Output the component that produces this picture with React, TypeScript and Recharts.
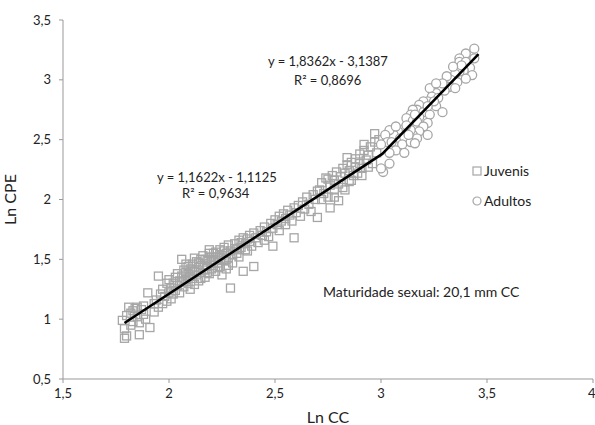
import React from 'react';
import { ScatterChart, Scatter, XAxis, YAxis, Label } from 'recharts';

// Ln CC (x) vs Ln CPE (y)
const juvenisX = [
  1.78, 1.79, 1.80, 1.79, 1.80, 1.81, 1.82, 1.82, 1.83, 1.83, 1.84, 1.85, 1.85, 1.86, 1.86, 1.87, 1.88, 1.88, 1.89, 1.90, 1.91, 1.93,
  1.93, 1.94, 1.95, 1.95, 1.96, 1.97, 1.97, 1.98, 1.99, 1.99, 2.00, 2.00, 2.01, 2.01,
  2.02, 2.02, 2.03, 2.03, 2.04, 2.04, 2.05, 2.05, 2.06, 2.06, 2.07, 2.07, 2.08, 2.08, 2.09, 2.09, 2.10, 2.10, 2.10,
  2.11, 2.11, 2.12, 2.12, 2.13, 2.13, 2.14, 2.14, 2.15, 2.15, 2.16, 2.16, 2.17, 2.17, 2.18, 2.18, 2.19, 2.19, 2.20, 2.20, 2.20,
  2.21, 2.21, 2.22, 2.22, 2.23, 2.23, 2.24, 2.24, 2.25, 2.25, 2.26, 2.26, 2.27, 2.27, 2.28, 2.28, 2.29, 2.29, 2.30, 2.30,
  2.06, 2.08, 2.09, 2.11, 2.12, 2.14, 2.15, 2.17, 2.18, 2.19, 2.21, 2.22, 2.23, 2.24, 2.26, 2.27, 2.28, 2.31, 2.32, 2.34, 2.36, 2.37,
  2.31, 2.32, 2.33, 2.33, 2.34, 2.35, 2.35, 2.36, 2.37, 2.38, 2.38, 2.39, 2.40, 2.40, 2.41, 2.42, 2.43, 2.44, 2.45, 2.45, 2.46, 2.47, 2.48, 2.49, 2.49, 2.50,
  2.51, 2.52, 2.52, 2.53, 2.54, 2.55, 2.55, 2.56, 2.57, 2.58, 2.59, 2.59, 2.60, 2.61, 2.62, 2.63, 2.64, 2.65, 2.66, 2.67, 2.68, 2.69, 2.70, 2.70,
  2.71, 2.72, 2.72, 2.73, 2.74, 2.75, 2.75, 2.76, 2.76, 2.77, 2.78, 2.78, 2.79, 2.80, 2.80, 2.81, 2.82, 2.82, 2.83,
  2.84, 2.85, 2.85, 2.86, 2.87, 2.88, 2.88, 2.89, 2.90, 2.90, 2.91, 2.92, 2.93, 2.94, 2.95, 2.96, 2.97, 2.98, 2.99,
  2.78, 2.83, 2.86, 2.91, 2.94, 2.84, 2.92, 2.97,
];
const juvenisY = [
  0.99, 0.84, 0.86, 0.92, 1.03, 1.10, 0.95, 1.05, 1.07, 0.98, 1.09, 1.02, 1.10, 0.87, 0.97, 1.08, 1.04, 1.11, 1.00, 1.22, 0.93, 1.06,
  1.13, 1.16, 1.10, 1.36, 1.21, 1.13, 1.25, 1.19, 1.15, 1.30, 1.22, 1.33, 1.17, 1.26,
  1.30, 1.21, 1.35, 1.24, 1.38, 1.28, 1.32, 1.22, 1.50, 1.36, 1.41, 1.27, 1.33, 1.39, 1.44, 1.30, 1.36, 1.25, 1.42,
  1.46, 1.34, 1.40, 1.29, 1.48, 1.37, 1.43, 1.32, 1.50, 1.39, 1.45, 1.53, 1.41, 1.35, 1.49, 1.44, 1.55, 1.38, 1.47, 1.42, 1.52,
  1.50, 1.45, 1.56, 1.40, 1.52, 1.47, 1.58, 1.44, 1.53, 1.37, 1.49, 1.60, 1.55, 1.42, 1.51, 1.62, 1.26, 1.57, 1.54, 1.47,
  1.31, 1.46, 1.38, 1.41, 1.51, 1.47, 1.34, 1.50, 1.39, 1.58, 1.55, 1.49, 1.43, 1.54, 1.57, 1.50, 1.45, 1.59, 1.55, 1.64, 1.58, 1.67,
  1.63, 1.58, 1.66, 1.52, 1.60, 1.40, 1.68, 1.63, 1.57, 1.70, 1.65, 1.61, 1.44, 1.72, 1.68, 1.64, 1.74, 1.70, 1.66, 1.77, 1.73, 1.69, 1.80, 1.61, 1.76, 1.83,
  1.79, 1.86, 1.74, 1.82, 1.88, 1.84, 1.79, 1.91, 1.87, 1.82, 1.68, 1.93, 1.89, 1.95, 1.86, 1.98, 1.92, 2.02, 1.96, 1.90, 2.04, 2.00, 1.85, 2.07,
  2.08, 2.00, 2.14, 2.05, 2.18, 2.17, 2.02, 1.93, 2.12, 2.20, 2.08, 2.16, 2.23, 1.99, 2.13, 2.19, 2.26, 2.10, 2.22,
  2.29, 2.15, 2.24, 2.31, 2.20, 2.27, 2.34, 2.22, 2.30, 2.38, 2.26, 2.41, 2.33, 2.37, 2.44, 2.30, 2.48, 2.39, 2.50,
  2.02, 2.08, 2.16, 2.20, 2.27, 2.35, 2.46, 2.55,
];

const adultosX = [
  3.44, 3.40, 3.37, 3.37, 3.40, 3.44, 3.42, 3.39, 3.43, 3.40, 3.37, 3.35, 3.33, 3.36, 3.32, 3.35, 3.30, 3.28, 3.26, 3.23,
  3.24, 3.27, 3.22, 3.20, 3.18, 3.17, 3.15, 3.20, 3.18, 3.14, 3.12, 3.15, 3.17, 3.23, 3.26, 3.29, 3.22, 3.20, 3.18, 3.15,
  3.14, 3.11, 3.08, 3.06, 3.04, 3.02, 3.03, 3.05, 3.09, 3.11, 3.14, 3.17, 3.10, 3.07, 3.11, 3.04, 3.01, 3.00, 3.00, 3.04,
  3.38, 3.34, 3.31, 3.29, 3.26, 3.25, 3.22, 3.16, 3.12, 3.07, 3.13, 3.22, 3.16,
];
const adultosY = [
  3.26, 3.22, 3.18, 3.15, 3.15, 3.18, 3.10, 3.08, 3.04, 3.01, 3.07, 3.05, 3.00, 2.98, 2.94, 2.93, 2.91, 2.93, 2.89, 2.93,
  2.86, 2.85, 2.82, 2.82, 2.79, 2.75, 2.75, 2.73, 2.69, 2.71, 2.68, 2.66, 2.65, 2.71, 2.78, 2.73, 2.64, 2.61, 2.57, 2.54,
  2.58, 2.59, 2.57, 2.54, 2.58, 2.54, 2.48, 2.48, 2.51, 2.52, 2.48, 2.51, 2.46, 2.41, 2.39, 2.30, 2.23, 2.26, 2.46, 2.39,
  3.12, 3.11, 3.03, 2.97, 2.97, 2.82, 2.78, 2.71, 2.62, 2.61, 2.54, 2.54, 2.47,
];

// fitted lines: y = 1,1622x - 1,1125 (juvenis), y = 1,8362x - 3,1387 (adultos)
const trendX = [1.79, 3.006, 3.46];
const trendY = [0.968, 2.381, 3.215];

const xTicks = [1.5, 2, 2.5, 3, 3.5, 4];
const yTicks = [0.5, 1, 1.5, 2, 2.5, 3, 3.5];

const juvenis = juvenisX.map((x, i) => ({ x, y: juvenisY[i] }));
const adultos = adultosX.map((x, i) => ({ x, y: adultosY[i] }));
const trend = trendX.map((x, i) => ({ x, y: trendY[i] }));

const fmt = (v: number) => String(v).replace('.', ',');
const FONT = 'Lato, "Open Sans", sans-serif';
const GREY = '#a6a6a6';

const SquareMark = (p: any) => (
  <rect x={p.cx - 4} y={p.cy - 4} width={8} height={8} fill="none" stroke={GREY} strokeWidth={1.3} />
);
const CircleMark = (p: any) => (
  <circle cx={p.cx} cy={p.cy} r={4.5} fill="#fff" stroke={GREY} strokeWidth={1.3} />
);

const note = (left: number, top: number, size = 13): React.CSSProperties => ({
  position: 'absolute', left, top, fontSize: size, color: '#222', fontFamily: FONT, whiteSpace: 'nowrap', lineHeight: 1,
});

export default function App() {
  return (
    <div style={{ position: 'absolute', left: 0, top: 0, width: 595, height: 425, background: '#fff' }}>
      <ScatterChart width={595} height={425} margin={{ top: 20, right: 2, bottom: 0, left: 0 }}>
        <XAxis
          type="number" dataKey="x" domain={[1.5, 4]} ticks={xTicks} tickFormatter={fmt}
          height={46} tickSize={4} tickMargin={6} stroke="#999"
          tick={{ fill: '#222', fontSize: 13, fontFamily: FONT }}
        >
          <Label value="Ln CC" position="insideBottom" offset={2} style={{ fill: '#222', fontSize: 16, fontFamily: FONT }} />
        </XAxis>
        <YAxis
          type="number" dataKey="y" domain={[0.5, 3.5]} ticks={yTicks} tickFormatter={fmt}
          width={63} tickSize={4} tickMargin={8} stroke="#999"
          tick={{ fill: '#222', fontSize: 13, fontFamily: FONT }}
        >
          <Label value="Ln CPE" angle={-90} position="insideLeft" offset={10} style={{ fill: '#222', fontSize: 16, fontFamily: FONT, textAnchor: 'middle' }} />
        </YAxis>
        <Scatter name="Juvenis" data={juvenis} shape={SquareMark} isAnimationActive={false} />
        <Scatter name="Adultos" data={adultos} shape={CircleMark} isAnimationActive={false} />
        <Scatter data={trend} line={{ stroke: '#000', strokeWidth: 2.5 }} lineType="joint" shape={() => null} isAnimationActive={false} />
      </ScatterChart>

      <div style={note(157, 171)}>y = 1,1622x - 1,1125</div>
      <div style={note(182, 187)}>R² = 0,9634</div>
      <div style={note(268, 55)}>y = 1,8362x - 3,1387</div>
      <div style={note(294, 74)}>R² = 0,8696</div>
      <div style={note(323, 285, 14)}>Maturidade sexual: 20,1 mm CC</div>

      <div style={{ ...note(472, 164, 14), display: 'flex', alignItems: 'center' }}>
        <svg width={10} height={10}><rect x={1} y={1} width={8} height={8} fill="none" stroke={GREY} strokeWidth={1.2} /></svg>
        <span style={{ marginLeft: 2 }}>Juvenis</span>
      </div>
      <div style={{ ...note(472, 194, 14), display: 'flex', alignItems: 'center' }}>
        <svg width={10} height={10}><circle cx={5} cy={5} r={4} fill="#fff" stroke={GREY} strokeWidth={1.2} /></svg>
        <span style={{ marginLeft: 2 }}>Adultos</span>
      </div>
    </div>
  );
}
